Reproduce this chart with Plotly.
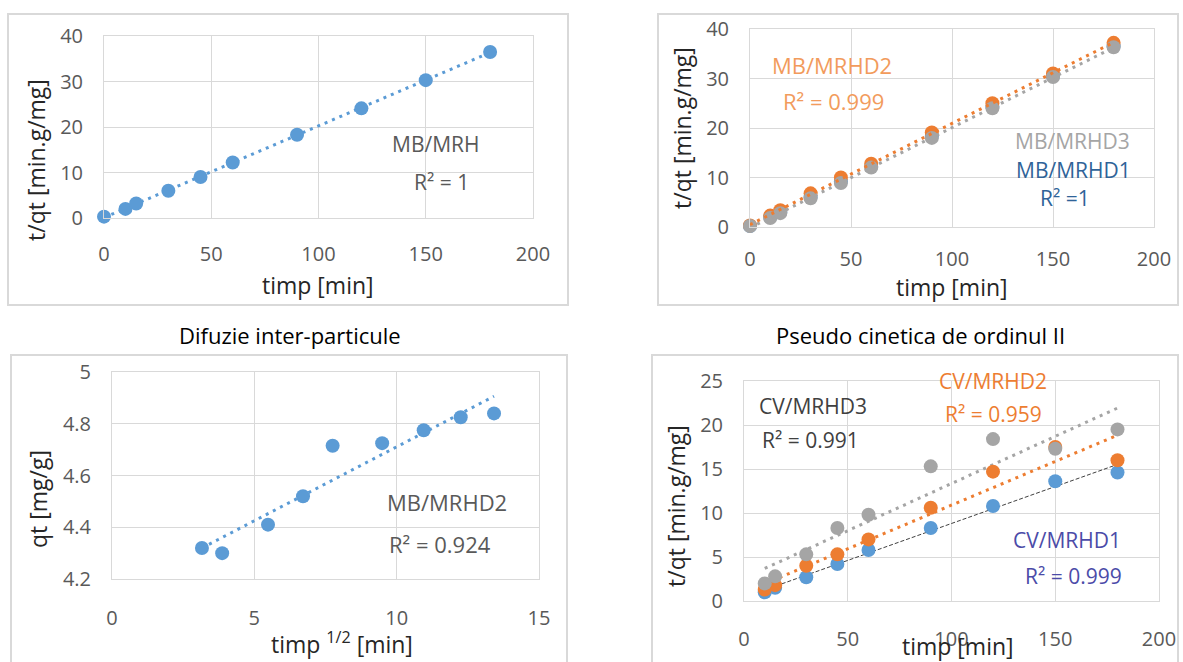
import numpy as np
import plotly.graph_objects as go

W, H = 1183, 662

# ---- data -------------------------------------------------------------
t_full = [0, 10, 15, 30, 45, 60, 90, 120, 150, 180]
mrh_tqt = [0.3, 2.0, 3.2, 6.0, 9.0, 12.2, 18.3, 24.1, 30.3, 36.5]

mrhd1_tqt = [0.2, 2.0, 3.0, 6.0, 9.2, 12.2, 18.3, 24.3, 30.5, 36.5]
mrhd2_tqt = [0.3, 2.3, 3.4, 6.8, 10.0, 12.8, 19.1, 25.0, 31.0, 37.2]
mrhd3_tqt = [0.2, 1.8, 2.8, 5.8, 8.9, 12.0, 18.0, 24.0, 30.3, 36.3]

sqrt_t = [3.16, 3.87, 5.48, 6.71, 7.75, 9.49, 10.95, 12.25, 13.42]
qt_mrhd2 = [4.32, 4.30, 4.41, 4.52, 4.715, 4.725, 4.775, 4.825, 4.84]

t_cv = [10, 15, 30, 45, 60, 90, 120, 150, 180]
cv_mrhd1 = [1.0, 1.5, 2.7, 4.2, 5.8, 8.3, 10.8, 13.6, 14.6]
cv_mrhd2 = [1.3, 1.8, 4.0, 5.3, 7.0, 10.6, 14.7, 17.5, 16.0]
cv_mrhd3 = [2.0, 2.8, 5.3, 8.3, 9.8, 15.3, 18.4, 17.3, 19.5]

BLUE = "#5B9BD5"
ORANGE = "#ED7D31"
GRAY = "#A5A5A5"
GRID = "#D9D9D9"
TICK = "#595959"
FONT = "Open Sans"


def fx(px):
    return px / W


def fy(py):
    return 1 - py / H


def fit(x, y):
    k, b = np.polyfit(x, y, 1)
    xs = np.array([min(x), max(x)])
    return xs, k * xs + b


fig = go.Figure()

# ---- axes layout (plot areas in pixels) --------------------------------
areas = {
    1: (104, 533, 36, 218),
    2: (750, 1154, 29, 227),
    3: (112, 539, 372, 579),
    4: (744, 1159, 381, 601),
}
ranges = {
    1: ([0, 200], 50, [0, 40], 10),
    2: ([0, 200], 50, [0, 40], 10),
    3: ([0, 15], 5, [4.2, 5.0], 0.2),
    4: ([0, 200], 50, [0, 25], 5),
}
xstand = {1: 18, 2: 14, 3: 21, 4: 20}

for i, (x0, x1, y0, y1) in areas.items():
    xr, dx, yr, dy = ranges[i]
    common = dict(
        showgrid=True, gridcolor=GRID, gridwidth=1,
        showline=True, linecolor=GRID, linewidth=1, mirror=True,
        zeroline=False, ticks="", automargin=False,
        tickfont=dict(family=FONT, size=20, color=TICK),
    )
    fig.layout["xaxis" + ("" if i == 1 else str(i))] = dict(
        domain=[fx(x0), fx(x1)], range=xr, dtick=dx, tick0=0,
        anchor="y" + ("" if i == 1 else str(i)),
        ticklabelstandoff=xstand[i], **common)
    fig.layout["yaxis" + ("" if i == 1 else str(i))] = dict(
        domain=[fy(y1), fy(y0)], range=yr, dtick=dy, tick0=yr[0],
        anchor="x" + ("" if i == 1 else str(i)),
        ticklabelstandoff=16, **common)
fig.layout.yaxis3.tickvals = [4.2, 4.4, 4.6, 4.8, 5.0]
fig.layout.yaxis3.ticktext = ["4.2", "4.4", "4.6", "4.8", "5"]


def scatter(x, y, color, ax):
    fig.add_trace(go.Scatter(x=x, y=y, mode="markers", cliponaxis=False,
                             marker=dict(color=color, size=14),
                             xaxis="x" + ax, yaxis="y" + ax, showlegend=False))


def trend(x, y, color, ax, dash="3px,5px", width=3):
    xs, ys = fit(x, y)
    fig.add_trace(go.Scatter(x=xs, y=ys, mode="lines", cliponaxis=False,
                             line=dict(color=color, width=width, dash=dash),
                             xaxis="x" + ax, yaxis="y" + ax, showlegend=False))


# panel 1: MB/MRH
trend(t_full, mrh_tqt, BLUE, "")
scatter(t_full, mrh_tqt, BLUE, "")

# panel 2: MB/MRHD1..3
scatter(t_full, mrhd1_tqt, BLUE, "2")
scatter(t_full, mrhd2_tqt, ORANGE, "2")
scatter(t_full, mrhd3_tqt, GRAY, "2")
trend(t_full, mrhd3_tqt, GRAY, "2")
trend(t_full, mrhd2_tqt, ORANGE, "2")

# panel 3: inter-particle diffusion
trend(sqrt_t, qt_mrhd2, BLUE, "3")
scatter(sqrt_t, qt_mrhd2, BLUE, "3")

# panel 4: pseudo second order (CV)
trend(t_cv, cv_mrhd3, GRAY, "4")
trend(t_cv, cv_mrhd2, ORANGE, "4")
trend(t_cv, cv_mrhd1, "#404040", "4", dash="4px,2px", width=1)
scatter(t_cv, cv_mrhd1, BLUE, "4")
scatter(t_cv, cv_mrhd2, ORANGE, "4")
scatter(t_cv, cv_mrhd3, GRAY, "4")

# ---- frames around each chart ------------------------------------------
for (l, t, r, b) in [(8, 14, 568, 305), (658, 14, 1178, 305),
                     (11, 355, 567, 668), (652, 355, 1178, 668)]:
    fig.add_shape(type="rect", xref="paper", yref="paper",
                  x0=fx(l), x1=fx(r), y0=fy(b), y1=fy(t),
                  line=dict(color=GRID, width=2), layer="below")


# ---- text --------------------------------------------------------------
def label(text, px, py, color=TICK, size=21, angle=0):
    fig.add_annotation(text=text, x=fx(px), y=fy(py), xref="paper", yref="paper",
                       showarrow=False, textangle=angle,
                       font=dict(family=FONT, size=size, color=color),
                       xanchor="center", yanchor="middle")


AX = "#262626"
# axis titles
label("t/qt [min.g/mg]", 36, 160, AX, 23, -90)
label("timp [min]", 318, 285, AX, 23)
label("t/qt [min.g/mg]", 682, 128, AX, 23, -90)
label("timp [min]", 952, 287, AX, 23)
label("qt [mg/g]", 38, 499, AX, 23, -90)
label("timp <sup>1/2</sup> [min]", 342, 643, AX, 23)
label("t/qt [min.g/mg]", 676, 506, AX, 23, -90)
label("timp [min]", 958, 646, AX, 23)

# chart titles
label("Difuzie inter-particule", 290, 335, "#000000", 22)
label("Pseudo cinetica de ordinul II", 920, 335, "#000000", 22)

# fit annotations
label("MB/MRH", 436, 144)
label("R² = 1", 441, 182)

label("MB/MRHD2", 832, 65, "#F29B5C", 22)
label("R² = 0.999", 833, 101, "#F29B5C", 22)
label("MB/MRHD3", 1072, 141, GRAY)
label("MB/MRHD1", 1073, 170, "#2F6398")
label("R² =1", 1065, 198, "#2F6398")

label("MB/MRHD2", 447, 502, TICK, 22)
label("R² = 0.924", 440, 544, TICK, 22)

label("CV/MRHD3", 813, 406, "#404040")
label("R² = 0.991", 810, 440, "#404040")
label("CV/MRHD2", 993, 381, ORANGE)
label("R² = 0.959", 993, 414, ORANGE)
label("CV/MRHD1", 1067, 540, "#4B4BA8")
label("R² = 0.999", 1073, 576, "#4B4BA8")

fig.update_layout(
    width=W, height=H, margin=dict(l=0, r=0, t=0, b=0),
    paper_bgcolor="white", plot_bgcolor="white",
    font=dict(family=FONT, color=TICK),
)

fig.write_html("out.html")
